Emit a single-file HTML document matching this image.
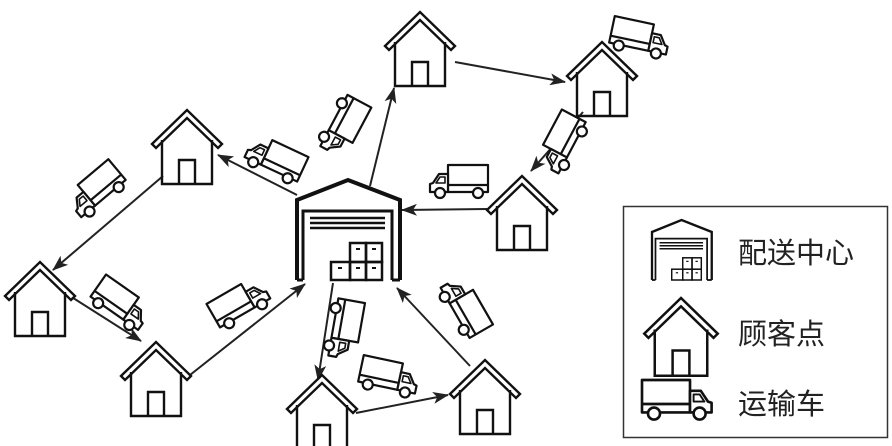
<!DOCTYPE html>
<html><head><meta charset="utf-8"><style>
html,body{margin:0;padding:0;background:#fff;}
svg{display:block;}
text{font-family:"Liberation Sans","Noto Sans CJK SC",sans-serif;}
</style></head><body>
<svg width="892" height="446" viewBox="0 0 892 446" xmlns="http://www.w3.org/2000/svg">
<defs>
<g id="house" fill="none" stroke="#111" stroke-width="2.4" stroke-linejoin="miter">
  <polygon points="-35,34 0,0 35,34 31,38 0,8 -31,38" fill="#fff"/>
  <polyline points="-25,30 -25,74 25,74 25,30"/>
  <polyline points="-8,74 -8,50 8,50 8,74"/>
</g>
<g id="truck" fill="#fff" stroke="#111" stroke-width="2.2" stroke-linejoin="round">
  <rect x="-30" y="-15" width="40" height="27"/>
  <line x1="-30" y1="5" x2="10" y2="5"/>
  <path d="M10,-6 L19,-6 L25,3 L28,4 L28,12 L10,12 Z"/>
  <path d="M13,-3 L18,-3 L22,3 L13,3 Z" fill="none" stroke-width="1.6"/>
  <circle cx="-20" cy="13" r="5"/>
  <circle cx="18" cy="13" r="5"/>
</g>
<g id="wh" fill="none" stroke="#111">
  <polyline points="297,280 297,200 348,180 400,200 400,280" stroke-width="4"/>
  <polyline points="303,280 303,211 392,211 392,280" stroke-width="3"/>
  <line x1="297" y1="280" x2="303" y2="280" stroke-width="3"/>
  <line x1="392" y1="280" x2="400" y2="280" stroke-width="3"/>
  <line x1="310" y1="218" x2="385" y2="218" stroke-width="2.5"/>
  <line x1="310" y1="223" x2="385" y2="223" stroke-width="2.5"/>
  <line x1="310" y1="228" x2="385" y2="228" stroke-width="2.5"/>
  <g stroke-width="2.5">
    <rect x="350" y="243" width="16" height="19"/><rect x="366" y="243" width="16" height="19"/>
    <rect x="331" y="262" width="19" height="18"/><rect x="350" y="262" width="16" height="18"/><rect x="366" y="262" width="16" height="18"/>
  </g>
  <g fill="#111" stroke="none">
    <rect x="356" y="248" width="4" height="2"/><rect x="372" y="248" width="4" height="2"/>
    <rect x="338" y="267" width="4" height="2"/><rect x="356" y="267" width="4" height="2"/><rect x="372" y="267" width="4" height="2"/>
  </g>
</g>
<marker id="ar" markerWidth="16" markerHeight="12" refX="15" refY="6" orient="auto" markerUnits="userSpaceOnUse">
  <path d="M0,0 L16,6 L0,12 L4,6 Z" fill="#222"/>
</marker>
</defs>

<g stroke="#222" stroke-width="2" marker-end="url(#ar)">
  <line x1="455" y1="62" x2="565" y2="82"/>
  <line x1="583" y1="112" x2="531" y2="171"/>
  <line x1="487" y1="209" x2="402" y2="210"/>
  <line x1="370" y1="186" x2="394" y2="88"/>
  <line x1="297" y1="195" x2="218" y2="155"/>
  <line x1="163" y1="176" x2="53" y2="270"/>
  <line x1="70" y1="296" x2="141" y2="341"/>
  <line x1="190" y1="375" x2="305" y2="284"/>
  <line x1="333" y1="283" x2="318" y2="380"/>
  <line x1="356" y1="413" x2="448" y2="395"/>
  <line x1="470" y1="366" x2="397" y2="288"/>
</g>

<use href="#wh"/>

<use href="#house" transform="translate(420,12)"/>
<use href="#house" transform="translate(602,42)"/>
<use href="#house" transform="translate(187,110)"/>
<use href="#house" transform="translate(522,176)"/>
<use href="#house" transform="translate(40,262)"/>
<use href="#house" transform="translate(156,342)"/>
<use href="#house" transform="translate(322,375)"/>
<use href="#house" transform="translate(485,360)"/>

<use href="#truck" transform="translate(641,37) rotate(12)"/>
<use href="#truck" transform="translate(561,143) rotate(118) scale(1,-1)"/>
<use href="#truck" transform="translate(458,180) scale(-1,1)"/>
<use href="#truck" transform="translate(344,127) rotate(118)"/>
<use href="#truck" transform="translate(275,158) rotate(205) scale(1,-1)"/>
<use href="#truck" transform="translate(95,190) rotate(140) scale(1,-1)"/>
<use href="#truck" transform="translate(122,304) rotate(35)"/>
<use href="#truck" transform="translate(240,302) rotate(-30)"/>
<use href="#truck" transform="translate(345,330) rotate(100)"/>
<use href="#truck" transform="translate(390,376) rotate(12)"/>
<use href="#truck" transform="translate(465,306) rotate(240) scale(1,-1)"/>

<rect x="623.5" y="206.5" width="264" height="231" fill="none" stroke="#333" stroke-width="1.5"/>
<use href="#wh" transform="translate(652,220) scale(0.58,0.6) translate(-297,-180)"/>
<use href="#house" transform="translate(681,298) scale(1.05)"/>
<use href="#truck" transform="translate(678,398) scale(1.2)"/>
<g font-size="29" fill="#222">
  <text x="738" y="263">配送中心</text>
  <text x="738" y="344">顾客点</text>
  <text x="738" y="414">运输车</text>
</g>
</svg>
</body></html>
